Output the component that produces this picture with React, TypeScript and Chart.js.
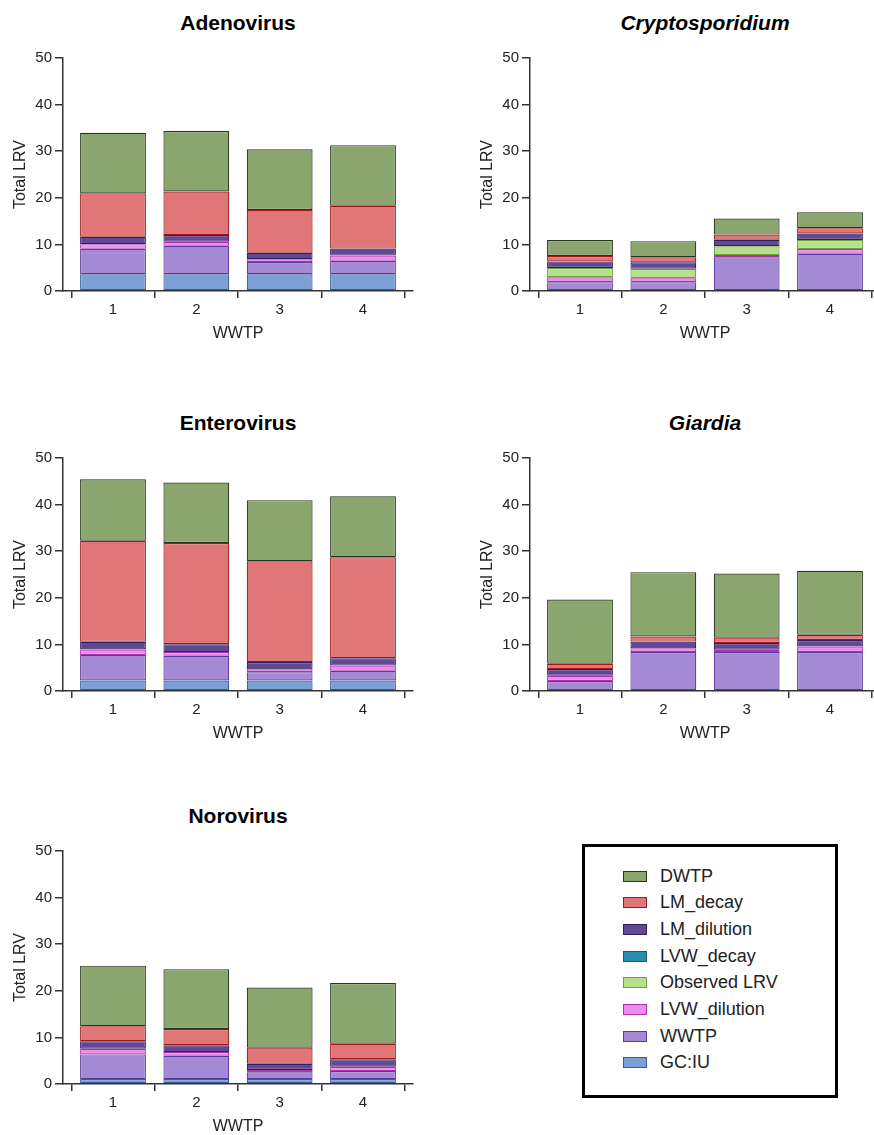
import React, { useEffect, useRef } from "react";
import { Chart, registerables } from "chart.js";

Chart.register(...registerables);

// ---------- data ----------
const WWTP_SITES = [1, 2, 3, 4];
const Y_TICKS = [0, 10, 20, 30, 40, 50];

// stack order, bottom -> top
const SERIES_NAMES = [
  "GC:IU",
  "WWTP",
  "LVW_dilution",
  "Observed LRV",
  "LVW_decay",
  "LM_dilution",
  "LM_decay",
  "DWTP",
];

// rows follow SERIES_NAMES; columns follow WWTP_SITES
const adenovirus = [
  [3.6, 3.6, 3.6, 3.6],
  [5.45, 6.1, 2.6, 2.9],
  [1.0, 0.85, 0.6, 1.1],
  [0, 0, 0, 0],
  [0, 0, 0, 0],
  [1.6, 1.45, 1.4, 1.5],
  [9.3, 9.35, 9.2, 9.2],
  [13.0, 13.0, 13.0, 13.0],
];

const cryptosporidium = [
  [0, 0, 0, 0],
  [1.9, 1.9, 7.25, 8.0],
  [1.05, 0.85, 0.45, 1.0],
  [2.0, 2.0, 1.9, 1.95],
  [0, 0, 0, 0],
  [1.4, 1.4, 1.4, 1.4],
  [1.15, 1.1, 1.1, 1.1],
  [3.45, 3.45, 3.45, 3.45],
];

const enterovirus = [
  [2.25, 2.25, 2.25, 2.25],
  [5.5, 5.3, 1.8, 2.1],
  [1.15, 0.8, 0.6, 1.1],
  [0, 0, 0, 0],
  [0, 0, 0, 0],
  [1.65, 1.7, 1.55, 1.6],
  [21.7, 21.7, 21.65, 21.65],
  [13.2, 13.0, 13.1, 13.1],
];

const giardia = [
  [0, 0, 0, 0],
  [2.15, 8.35, 8.35, 8.35],
  [1.1, 0.8, 0.5, 1.2],
  [0, 0, 0, 0],
  [0, 0, 0, 0],
  [1.45, 1.45, 1.45, 1.4],
  [1.15, 1.1, 1.15, 1.1],
  [13.8, 13.8, 13.75, 13.75],
];

const norovirus = [
  [1.05, 1.05, 1.05, 1.05],
  [5.3, 5.0, 1.45, 1.75],
  [1.2, 0.8, 0.5, 0.9],
  [0, 0, 0, 0],
  [0, 0, 0, 0],
  [1.65, 1.45, 1.35, 1.6],
  [3.2, 3.5, 3.45, 3.35],
  [13.0, 12.85, 12.9, 13.0],
];

// ---------- styles ----------
const FILL_COLORS = [
  "#7aa0d6",
  "#a48ad4",
  "#ee8eec",
  "#b8e08a",
  "#2a8cae",
  "#604894",
  "#e07678",
  "#8aa66e",
];
const BORDER_COLORS = [
  "#3a5a9a",
  "#5a3a9a",
  "#b030b0",
  "#6aa040",
  "#1a5a70",
  "#2e1f5e",
  "#a01818",
  "#2a3420",
];

const FONT_FAMILY = '"Liberation Sans", Arial, Helvetica, sans-serif';
const AXIS_COLOR = "#333333";
const TEXT_COLOR = "#222222";

const PLOT_W = 350;
const PLOT_H = 233;
const Y_AXIS_W = 63;
const X_AXIS_H = 55;
const PAD_TOP = 18;
const PAD_RIGHT = 12;

const PANELS = [
  { title: "Adenovirus", italic: false, values: adenovirus, left: 63, top: 58 },
  { title: "Cryptosporidium", italic: true, values: cryptosporidium, left: 530, top: 58 },
  { title: "Enterovirus", italic: false, values: enterovirus, left: 63, top: 458 },
  { title: "Giardia", italic: true, values: giardia, left: 530, top: 458 },
  { title: "Norovirus", italic: false, values: norovirus, left: 63, top: 851 },
];

type PanelProps = {
  title: string;
  italic: boolean;
  values: number[][];
  left: number;
  top: number;
};

function Panel({ title, italic, values, left, top }: PanelProps) {
  const ref = useRef<HTMLCanvasElement | null>(null);

  useEffect(() => {
    if (!ref.current) return;
    const tickFont = { family: FONT_FAMILY, size: 15 };
    const titleFont = { family: FONT_FAMILY, size: 16 };
    const chart = new Chart(ref.current, {
      type: "bar",
      data: {
        datasets: SERIES_NAMES.map((name, s) => ({
          label: name,
          data: WWTP_SITES.map((x, i) => ({
            x,
            y: values[s][i] === 0 ? null : values[s][i],
          })),
          backgroundColor: FILL_COLORS[s],
          borderColor: BORDER_COLORS[s],
          borderWidth: 1.2,
          borderSkipped: false,
          barPercentage: 0.79,
          categoryPercentage: 1,
        })),
      },
      options: {
        responsive: false,
        animation: false,
        layout: { padding: { top: PAD_TOP, right: PAD_RIGHT, left: 0, bottom: 0 } },
        plugins: {
          legend: { display: false },
          tooltip: { enabled: false },
          title: { display: false },
        },
        scales: {
          x: {
            type: "linear",
            min: 0.4,
            max: 4.6,
            stacked: true,
            offset: false,
            afterBuildTicks: (axis: any) => {
              axis.ticks = WWTP_SITES.map((v) => ({ value: v }));
            },
            afterFit: (scale: any) => {
              scale.height = X_AXIS_H;
            },
            ticks: {
              font: tickFont,
              color: TEXT_COLOR,
              padding: 3,
              autoSkip: false,
              maxRotation: 0,
              callback: (v: any) => String(v),
            },
            grid: {
              display: true,
              drawOnChartArea: false,
              drawTicks: true,
              tickLength: 7,
              color: AXIS_COLOR,
              lineWidth: 1.5,
            },
            border: { display: true, color: AXIS_COLOR, width: 1.5 },
            title: {
              display: true,
              text: "WWTP",
              font: titleFont,
              color: TEXT_COLOR,
              padding: { top: 0, bottom: 3 },
            },
          },
          y: {
            type: "linear",
            min: 0,
            max: 50,
            stacked: true,
            afterBuildTicks: (axis: any) => {
              axis.ticks = Y_TICKS.map((v) => ({ value: v }));
            },
            afterFit: (scale: any) => {
              scale.width = Y_AXIS_W;
            },
            ticks: {
              font: tickFont,
              color: TEXT_COLOR,
              padding: 3,
            },
            grid: {
              display: true,
              drawOnChartArea: false,
              drawTicks: true,
              tickLength: 8,
              color: AXIS_COLOR,
              lineWidth: 1.5,
            },
            border: { display: true, color: AXIS_COLOR, width: 1.5 },
            title: {
              display: true,
              text: "Total LRV",
              font: titleFont,
              color: TEXT_COLOR,
              padding: { top: 11, bottom: 0 },
            },
          },
        },
      },
    } as any);
    return () => chart.destroy();
  }, [values]);

  const canvasW = Y_AXIS_W + PLOT_W + PAD_RIGHT;
  const canvasH = PAD_TOP + PLOT_H + X_AXIS_H;

  return (
    <>
      <div
        style={{
          position: "absolute",
          left: left,
          top: top - 35 - 13,
          width: PLOT_W,
          textAlign: "center",
          fontFamily: FONT_FAMILY,
          fontWeight: "bold",
          fontStyle: italic ? "italic" : "normal",
          fontSize: 21,
          lineHeight: "26px",
          color: "#000",
        }}
      >
        {title}
      </div>
      <canvas
        ref={ref}
        width={canvasW}
        height={canvasH}
        style={{
          position: "absolute",
          left: left - Y_AXIS_W,
          top: top - PAD_TOP,
          width: canvasW,
          height: canvasH,
        }}
      />
    </>
  );
}

function Legend() {
  const items = SERIES_NAMES.map((name, i) => ({ name, i })).reverse();
  return (
    <div
      style={{
        position: "absolute",
        left: 582,
        top: 844,
        width: 256,
        height: 254,
        border: "3px solid #000",
        boxSizing: "border-box",
        background: "#fff",
      }}
    >
      {items.map((it, k) => (
        <div
          key={it.name}
          style={{
            position: "absolute",
            left: 38,
            top: 16 + k * 26.7,
            height: 26,
            display: "flex",
            alignItems: "center",
            fontFamily: FONT_FAMILY,
            fontSize: 18,
            color: TEXT_COLOR,
            whiteSpace: "nowrap",
          }}
        >
          <span
            style={{
              display: "inline-block",
              width: 24,
              height: 11,
              background: FILL_COLORS[it.i],
              border: `1px solid ${BORDER_COLORS[it.i]}`,
              boxSizing: "border-box",
              marginRight: 13,
            }}
          />
          <span>{it.name}</span>
        </div>
      ))}
    </div>
  );
}

export default function App() {
  return (
    <div
      style={{
        position: "absolute",
        left: 0,
        top: 0,
        width: 874,
        height: 1135,
        overflow: "hidden",
        background: "#fff",
      }}
    >
      {PANELS.map((p) => (
        <Panel key={p.title} {...p} />
      ))}
      <Legend />
    </div>
  );
}
